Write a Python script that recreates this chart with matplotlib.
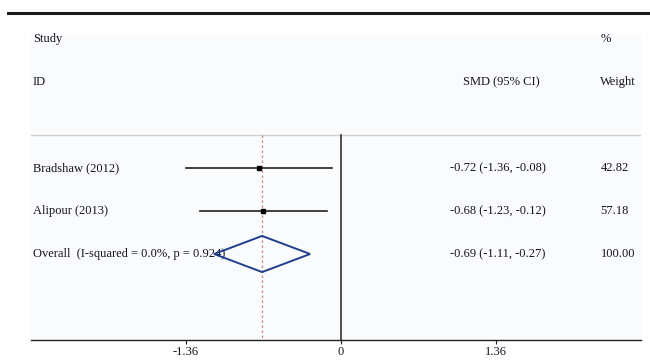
import matplotlib.pyplot as plt
from matplotlib.patches import Polygon

# study results (standardised mean difference with 95% CI)
studies = ['Bradshaw (2012)', 'Alipour (2013)']
smd = [-0.72, -0.68]
ci_low = [-1.36, -1.23]
ci_high = [-0.08, -0.12]
weights = [42.82, 57.18]

overall_label = 'Overall  (I-squared = 0.0%, p = 0.924)'
overall_smd = -0.69
overall_low = -1.11
overall_high = -0.27
overall_weight = 100.00

xticks = [-1.36, 0, 1.36]

plt.rcParams['font.family'] = ['Liberation Serif', 'DejaVu Serif']
plt.rcParams['font.size'] = 9
plt.rcParams['text.color'] = '#141420'

fig = plt.figure(figsize=(6.5, 3.6), dpi=100)
fig.patch.set_facecolor('white')

# heavy rule across the top
fig.add_artist(plt.Line2D([8 / 650, 1.0], [1 - 13 / 360] * 2, color='#1a1a1a', lw=2.2,
                          transform=fig.transFigure))

ax = fig.add_axes([31 / 650, 1 - 340 / 360, 610 / 650, 307 / 360])
ax.set_facecolor('#fafbfd')
ax.set_xlim(-2.712, 2.625)
ax.set_ylim(7.0, -0.14)

for s in ['top', 'left', 'right']:
    ax.spines[s].set_visible(False)
ax.spines['bottom'].set_color('#222222')
ax.spines['bottom'].set_linewidth(1.0)
ax.set_yticks([])
ax.set_xticks(xticks)
ax.set_xticklabels([f'{t:g}' for t in xticks])
ax.tick_params(axis='x', length=3, width=0.8, pad=1, colors='#222222', labelcolor='#141420')

x_ci = 0.954      # SMD column
x_w = 2.27        # weight column (left edge)
x_lab = -2.695    # study names

# headers
ax.text(x_lab, 0, 'Study', va='center', ha='left')
ax.text(x_lab, 1, 'ID', va='center', ha='left')
ax.text(2.315, 0, '%', va='center', ha='center')
ax.text(x_ci + 0.45, 1, 'SMD (95% CI)', va='center', ha='center')
ax.text(2.42, 1, 'Weight', va='center', ha='center')

# separator line under the header
ax.axhline(2.23, color='#d0d0d0', lw=1)

# null line and overall-effect line
ax.plot([0, 0], [2.23, 7.0], color='#222222', lw=1.1)
ax.plot([overall_smd, overall_smd], [2.23, 7.0], color='#c98a8a', lw=0.9, ls=(0, (2, 2)))

rows = [3, 4]
for r, name, m, lo, hi, w in zip(rows, studies, smd, ci_low, ci_high, weights):
    ax.text(x_lab, r, name, va='center', ha='left')
    ax.plot([lo, hi], [r, r], color='#222222', lw=1.2)
    ax.plot(m, r, marker='s', ms=2.5, color='black')
    ax.text(x_ci, r, f'{m:.2f} ({lo:.2f}, {hi:.2f})', va='center', ha='left')
    ax.text(x_w, r, f'{w:.2f}', va='center', ha='left')

# pooled estimate
r = 5
ax.text(x_lab, r, overall_label, va='center', ha='left')
diamond = Polygon([[overall_low, r], [overall_smd, r - 0.42],
                   [overall_high, r], [overall_smd, r + 0.42]],
                  closed=True, fill=False, edgecolor='#1f3f8a', lw=1.4, zorder=5)
ax.add_patch(diamond)
ax.text(x_ci, r, f'{overall_smd:.2f} ({overall_low:.2f}, {overall_high:.2f})', va='center', ha='left')
ax.text(x_w, r, f'{overall_weight:.2f}', va='center', ha='left')

plt.savefig('out.png', dpi=100)
